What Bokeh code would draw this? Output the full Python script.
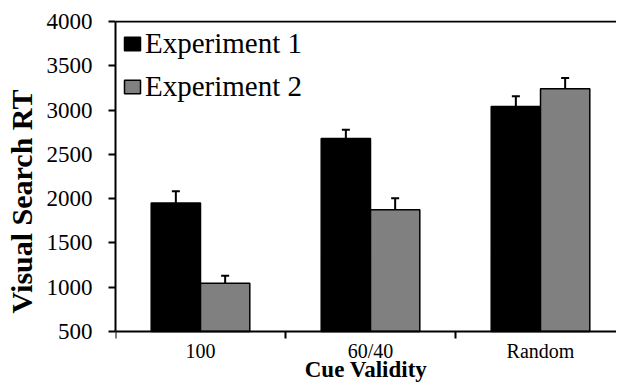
from bokeh.plotting import figure
from bokeh.models import (ColumnDataSource, Whisker, FixedTicker, Legend, LegendItem,
                          Span, TeeHead, Range1d)
from bokeh.embed import file_html
from bokeh.resources import INLINE

categories = ["100", "60/40", "Random"]
exp1 = [1950, 2680, 3040]
exp1_err = [132, 98, 116]
exp2 = [1045, 1875, 3240]
exp2_err = [83, 128, 122]
y_ticks = [500, 1000, 1500, 2000, 2500, 3000, 3500, 4000]
x_title = "Cue Validity"
y_title = "Visual Search RT"
y_base = 500
y_top = 4000

FONT = "Liberation Serif"
bar_w = 0.29
centers = [i + 0.5 for i in range(len(categories))]

src1 = ColumnDataSource(dict(
    x=[c - bar_w / 2 for c in centers], top=exp1,
    upper=[v + e for v, e in zip(exp1, exp1_err)],
    lower=[v - e for v, e in zip(exp1, exp1_err)]))
src2 = ColumnDataSource(dict(
    x=[c + bar_w / 2 for c in centers], top=exp2,
    upper=[v + e for v, e in zip(exp2, exp2_err)],
    lower=[v - e for v, e in zip(exp2, exp2_err)]))

# frame runs to the bottom edge; the x axis sits at y_base inside it
p = figure(width=616, height=382, output_backend="svg", toolbar_location=None,
           x_range=Range1d(0, 2.947), y_range=Range1d(-76, 4011),
           min_border_left=115, min_border_top=20, min_border_bottom=0,
           min_border_right=0)
p.outline_line_color = None
p.grid.visible = False
p.background_fill_color = "white"
p.border_fill_color = "white"

r1 = p.vbar(x="x", top="top", bottom=y_base, width=bar_w, source=src1,
            fill_color="#000000", line_color="#000000", line_width=1.5)
r2 = p.vbar(x="x", top="top", bottom=y_base, width=bar_w, source=src2,
            fill_color="#808080", line_color="#000000", line_width=1.5)

for s in (src1, src2):
    w = Whisker(base="x", upper="upper", lower="lower", source=s,
                line_color="black", line_width=2,
                upper_head=TeeHead(size=8, line_width=2, line_color="black"),
                lower_head=TeeHead(size=8, line_width=2, line_color="black"))
    p.add_layout(w)

p.add_layout(Span(location=y_top, dimension="width", line_color="black", line_width=2))

# x axis
xa = p.xaxis[0]
xa.fixed_location = y_base
xa.ticker = FixedTicker(ticks=centers, minor_ticks=list(range(len(categories) + 1)))
xa.major_label_overrides = {c: name for c, name in zip(centers, categories)}
xa.major_tick_out = 0
xa.major_tick_in = 0
xa.minor_tick_out = 7
xa.minor_tick_in = 0
xa.minor_tick_line_width = 2
xa.minor_tick_line_color = "black"
xa.axis_line_width = 2
xa.axis_line_color = "black"
xa.major_label_text_font = FONT
xa.major_label_text_font_size = "20px"
xa.major_label_text_color = "black"
xa.major_label_standoff = 2
xa.axis_label = x_title
xa.axis_label_text_font = FONT
xa.axis_label_text_font_size = "23px"
xa.axis_label_text_font_style = "bold"
xa.axis_label_text_color = "black"
xa.axis_label_standoff = -9

# y axis
ya = p.yaxis[0]
ya.bounds = (y_base, y_top)
ya.ticker = FixedTicker(ticks=y_ticks)
ya.major_tick_out = 7
ya.major_tick_in = 0
ya.major_tick_line_width = 2
ya.minor_tick_line_color = None
ya.axis_line_width = 2
ya.axis_line_color = "black"
ya.major_label_text_font = FONT
ya.major_label_text_font_size = "23px"
ya.major_label_text_color = "black"
ya.major_label_standoff = 16
ya.axis_label = y_title
ya.axis_label_text_font = FONT
ya.axis_label_text_font_size = "30px"
ya.axis_label_text_font_style = "bold"
ya.axis_label_text_color = "black"
ya.axis_label_standoff = 6

legend = Legend(items=[LegendItem(label="Experiment 1", renderers=[r1]),
                       LegendItem(label="Experiment 2", renderers=[r2])],
                location="top_left", border_line_color=None,
                background_fill_alpha=0, margin=7, padding=9,
                glyph_width=20, glyph_height=17, label_standoff=3, spacing=10,
                label_text_font=FONT, label_text_font_size="29px",
                label_text_color="black")
p.add_layout(legend)

open("out.html", "w").write(file_html(p, INLINE))
